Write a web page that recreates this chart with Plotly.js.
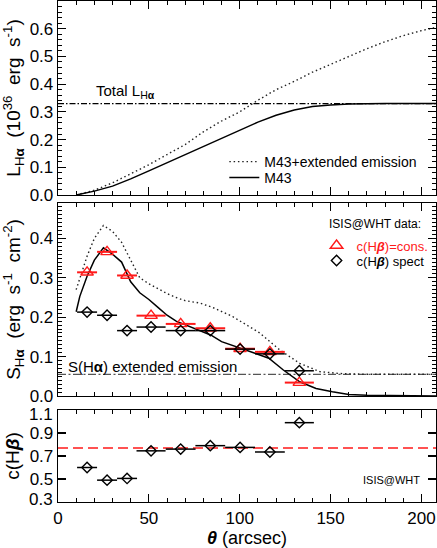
<!DOCTYPE html>
<html>
<head>
<meta charset="utf-8">
<script src="https://cdn.plot.ly/plotly-3.0.1.min.js"></script>
<style>
  html, body { margin: 0; padding: 0; background: #fff; }
  #chart { width: 437px; height: 548px; }
</style>
</head>
<body>
<div id="chart"></div>
<script>
// top panel: cumulative H-alpha luminosity
var lumTheta = [10, 20, 30, 40, 50, 60, 70, 80, 90, 100, 110, 120, 130, 140, 150, 160, 170, 180, 190, 200, 208];
var lumM43 = [0, 0.014, 0.032, 0.058, 0.087, 0.116, 0.146, 0.175, 0.205, 0.234, 0.263, 0.288, 0.307, 0.319, 0.325, 0.328, 0.33, 0.33, 0.33, 0.33, 0.33];
var lumM43Ext = [0, 0.017, 0.044, 0.076, 0.109, 0.146, 0.182, 0.228, 0.267, 0.30, 0.342, 0.38, 0.41, 0.443, 0.472, 0.50, 0.528, 0.553, 0.575, 0.593, 0.605];
var totalL = 0.33;

// middle panel: H-alpha surface brightness
var surfThetaM43 = [10, 12, 16, 20, 25, 30, 35, 40, 45, 50, 55, 60, 65, 70, 76, 84, 90, 100, 108, 116, 124, 133, 142, 151, 160, 170, 180, 190, 208];
var surfM43 = [0.214, 0.253, 0.304, 0.345, 0.376, 0.36, 0.34, 0.29, 0.262, 0.245, 0.225, 0.205, 0.19, 0.181, 0.17, 0.155, 0.138, 0.121, 0.109, 0.096, 0.066, 0.036, 0.019, 0.011, 0.004, 0.002, 0.001, 0, 0];
var surfThetaExt = [10, 12, 16, 20, 25, 30, 35, 40, 45, 50, 55, 60, 65, 70, 78, 85, 96, 111, 122, 133, 144, 155, 170, 190, 208];
var surfExt = [0.27, 0.30, 0.355, 0.40, 0.433, 0.418, 0.39, 0.345, 0.30, 0.285, 0.272, 0.26, 0.25, 0.242, 0.236, 0.225, 0.202, 0.16, 0.117, 0.083, 0.062, 0.057, 0.055, 0.055, 0.055];
var extEmission = 0.055;

// ISIS@WHT apertures
var binCenters = [16, 27, 38, 51.2, 67.5, 83.8, 100.2, 116.6, 132.8];
var binHalfWidth = [5.5, 5.5, 5.5, 8, 8.2, 8.2, 8.2, 8.2, 8];
var sConsHb = [0.314, 0.366, 0.306, 0.204, 0.183, 0.172, 0.120, 0.112, 0.034];
var sSpectHb = [0.213, 0.205, 0.166, 0.175, 0.166, 0.166, 0.119, 0.107, 0.064];

// bottom panel: extinction
var cHb = [0.60, 0.49, 0.505, 0.745, 0.76, 0.79, 0.775, 0.735, 0.99];
var cHbConst = 0.77;
var xEnds = [0, 208];

var red = '#ff1a1a';
var font = 'Liberation Sans, Arial, Helvetica, sans-serif';
var sp = '&nbsp;';

var data = [
    // panel 1
    {x: xEnds, y: [totalL, totalL], xaxis: 'x', yaxis: 'y', mode: 'lines', showlegend: false,
     line: {color: 'black', width: 1.2, dash: '6px,2px,1.5px,2px'}},
    {x: lumTheta, y: lumM43Ext, xaxis: 'x', yaxis: 'y', mode: 'lines', name: 'M43+extended emission',
     legend: 'legend', line: {color: '#222', width: 1.4, dash: '1.5px,2.8px'}},
    {x: lumTheta, y: lumM43, xaxis: 'x', yaxis: 'y', mode: 'lines', name: 'M43',
     legend: 'legend3', line: {color: 'black', width: 1.5}},

    // panel 2
    {x: xEnds, y: [extEmission, extEmission], xaxis: 'x2', yaxis: 'y2', mode: 'lines', showlegend: false,
     line: {color: '#555', width: 1.3, dash: '8px,2.5px,2px,2.5px'}},
    {x: surfThetaExt, y: surfExt, xaxis: 'x2', yaxis: 'y2', mode: 'lines', showlegend: false,
     line: {color: '#222', width: 1.4, dash: '1.5px,2.8px'}},
    {x: surfThetaM43, y: surfM43, xaxis: 'x2', yaxis: 'y2', mode: 'lines', showlegend: false,
     line: {color: 'black', width: 1.5}},
    {x: binCenters, y: sConsHb, xaxis: 'x2', yaxis: 'y2', mode: 'markers', legend: 'legend2',
     name: '<span style="color:' + red + '">c(H<b><i>β</i></b>)=cons.</span>',
     marker: {symbol: 'triangle-up-open', size: 11, color: red, line: {width: 1.4, color: red}},
     error_x: {type: 'data', array: binHalfWidth, color: red, thickness: 2, width: 0}},
    {x: binCenters, y: sSpectHb, xaxis: 'x2', yaxis: 'y2', mode: 'markers', legend: 'legend4',
     name: 'c(H<b><i>β</i></b>) spect',
     marker: {symbol: 'diamond-open', size: 8, color: 'black', line: {width: 1.4, color: 'black'}},
     error_x: {type: 'data', array: binHalfWidth, color: 'black', thickness: 1.5, width: 0}},

    // panel 3
    {x: xEnds, y: [cHbConst, cHbConst], xaxis: 'x3', yaxis: 'y3', mode: 'lines', showlegend: false,
     line: {color: red, width: 1.5, dash: '10px,5px'}},
    {x: binCenters, y: cHb, xaxis: 'x3', yaxis: 'y3', mode: 'markers', showlegend: false,
     marker: {symbol: 'diamond-open', size: 8, color: 'black', line: {width: 1.4, color: 'black'}},
     error_x: {type: 'data', array: binHalfWidth, color: 'black', thickness: 1.5, width: 0}}
];

function axis(extra) {
    var base = {
        showline: true, linecolor: 'black', linewidth: 1.3, mirror: 'ticks',
        ticks: 'inside', ticklen: 8, tickwidth: 1.2, tickcolor: 'black',
        zeroline: false, showgrid: false,
        tickfont: {family: font, size: 17, color: 'black'}
    };
    for (var k in extra) base[k] = extra[k];
    return base;
}
var xMinor = {dtick: 10, ticks: 'inside', ticklen: 4, tickwidth: 1, tickcolor: 'black', showgrid: false};

function legendAt(x, y, size) {
    return {x: x, y: y, xanchor: 'left', yanchor: 'top', bgcolor: 'rgba(0,0,0,0)',
        font: {family: font, size: size, color: 'black'}, tracegroupgap: 0, itemwidth: 30};
}

var layout = {
    width: 437,
    height: 548,
    margin: {l: 58, r: 1, t: 1, b: 46},
    paper_bgcolor: 'white',
    plot_bgcolor: 'white',
    font: {family: font, color: 'black'},
    showlegend: true,
    xaxis: axis({domain: [0, 1], range: [0, 208], anchor: 'y', dtick: 50, tick0: 0, minor: xMinor, showticklabels: false}),
    yaxis: axis({domain: [0.6128, 1], range: [0, 0.7], anchor: 'x', dtick: 0.1, tick0: 0, tickformat: '.1f',
        minor: {dtick: 0.02, ticks: 'inside', ticklen: 4, tickwidth: 1, tickcolor: 'black', showgrid: false},
        title: {text: 'L<sub>H<b>α</b></sub>' + sp + ' (10<sup>36</sup>' + sp + ' erg' + sp + ' s<sup>-1</sup>)', font: {size: 19}, standoff: 5}}),
    xaxis2: axis({domain: [0, 1], range: [0, 208], anchor: 'y2', dtick: 50, tick0: 0, minor: xMinor, showticklabels: false}),
    yaxis2: axis({domain: [0.2116, 0.5968], range: [0, 0.49], anchor: 'x2', dtick: 0.1, tick0: 0, tickformat: '.1f',
        minor: {dtick: 0.01, ticks: 'inside', ticklen: 4, tickwidth: 1, tickcolor: 'black', showgrid: false},
        title: {text: 'S<sub>H<b>α</b></sub>' + sp + ' (erg' + sp + ' s<sup>-1</sup>' + sp + ' cm<sup>-2</sup>)', font: {size: 19}, standoff: 5}}),
    xaxis3: axis({domain: [0, 1], range: [0, 208], anchor: 'y3', dtick: 50, tick0: 0, minor: xMinor,
        title: {text: '<b><i>θ</i></b> (arcsec)', font: {size: 18}, standoff: 4}}),
    yaxis3: axis({domain: [0, 0.1836], range: [0.3, 1.1], anchor: 'x3', tickvals: [0.5, 0.7, 0.9], ticktext: ['0.5', '0.7', '0.9'],
        title: {text: 'c(H<b><i>β</i></b>)', font: {size: 19}, standoff: 5}}),
    legend: legendAt(0.44, 0.7106, 14),
    legend3: legendAt(0.44, 0.6786, 14),
    legend2: legendAt(0.684, 0.5419, 13),
    legend4: legendAt(0.684, 0.512, 13),
    annotations: [
        {xref: 'x', yref: 'y', x: 20, y: 0.375, xanchor: 'left', yanchor: 'middle', showarrow: false,
         text: 'Total L<sub>H<b>α</b></sub>', font: {size: 15}},
        {xref: 'x2', yref: 'y2', x: 4.5, y: 0.074, xanchor: 'left', yanchor: 'middle', showarrow: false,
         text: 'S(H<b>α</b>) extended emission', font: {size: 15}},
        {xref: 'x2', yref: 'y2', x: 148, y: 0.436, xanchor: 'left', yanchor: 'middle', showarrow: false,
         text: 'ISIS@WHT data:', font: {size: 12}},
        {xref: 'x3', yref: 'y3', x: 167, y: 0.49, xanchor: 'left', yanchor: 'middle', showarrow: false,
         text: 'ISIS@WHT', font: {size: 11}},
        {xref: 'paper', yref: 'y3', x: 0, y: 1.06, xanchor: 'right', yanchor: 'middle', xshift: -3, showarrow: false,
         text: '1.1', font: {size: 17}},
        {xref: 'paper', yref: 'y3', x: 0, y: 0.32, xanchor: 'right', yanchor: 'middle', xshift: -3, showarrow: false,
         text: '0.3', font: {size: 17}}
    ]
};

Plotly.newPlot('chart', data, layout, {staticPlot: true, displayModeBar: false});
</script>
</body>
</html>
